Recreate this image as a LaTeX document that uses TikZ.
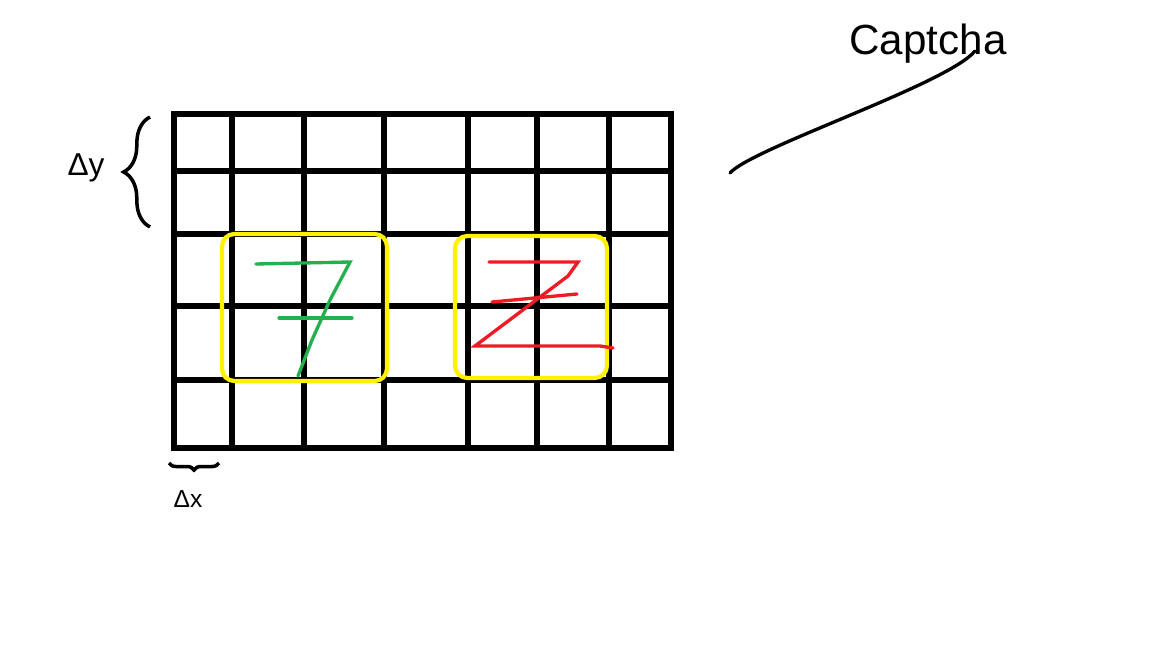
\documentclass[tikz,border=0pt]{standalone}
\usepackage{fontspec}
\setmainfont{Liberation Sans}
\usetikzlibrary{decorations.pathreplacing}
\definecolor{paintgreen}{RGB}{34,177,76}
\definecolor{paintred}{RGB}{237,28,36}
\definecolor{paintyellow}{RGB}{255,242,0}
\tikzset{
  grid_line/.style = {black, line width=3.2pt, line cap=round},% grille
  mark_box/.style = {draw=paintyellow, line width=2.4pt,
    rounded corners=7pt},% cadre jaune
  green_digit/.style = {paintgreen, line width=1.9pt, line cap=round},% chiffre vert
  red_digit/.style = {paintred, line width=1.9pt, line cap=round},% lettre rouge
  step_brace/.style = {black, line width=2pt, decorate,
    decoration={brace, amplitude=#1}},% accolade
  label_text/.style = {font=\fontsize{18}{21}\selectfont, inner sep=0pt}
}

\begin{document}
\begin{tikzpicture}[x=0.02cm, y=-0.02cm]
      \useasboundingbox (0,0) rectangle (1152,648);
      % grille
      \draw [grid_line] (174,114) rectangle (671,448);
      \foreach \xv in {232,304,384,468,537,609}
        \draw [grid_line] (\xv,114) -- (\xv,448);
      \foreach \yv in {171,234,306,380}
        \draw [grid_line] (174,\yv) -- (671,\yv);
      % cadres
      \draw [mark_box] (222,234) rectangle (387,381);
      \draw [mark_box] (455,236) rectangle (607,378);
      % 7
      \draw [green_digit] (256,264) -- (350,262) -- (330,300) -- (312,340) -- (298,376);
      \draw [green_digit] (279,318) -- (352,318);
      % Z
      \draw [red_digit] (489,262) -- (578,262) -- (568,276) -- (475,346) -- (600,346) -- (613,348);
      \draw [red_digit] (492,302) -- (577,294);
      % textes
      \node [label_text] (dy) at (86,168) {Δy};
      \node [label_text, font=\fontsize{14}{16}\selectfont] (dx) at (188,499) {Δx};
      \node [inner sep=0pt, font=\fontsize{24}{28}\selectfont] (caption) at (928,44) {Captcha};
      \draw [step_brace=15pt] (150,227) -- (150,117);
      \draw [step_brace=4pt] (219,463) -- (169,463);
      \coordinate (tail) at (730,173);
      \coordinate (tip) at (975,51);
      \draw [black, line width=1.9pt, line cap=round] (tail) .. controls (752,148) and (948,84) .. (tip);
    \end{tikzpicture}
\end{document}
